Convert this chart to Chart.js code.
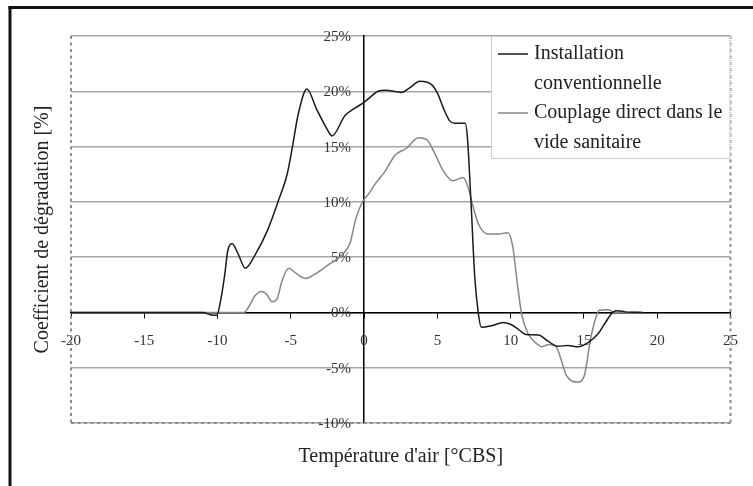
<!DOCTYPE html>
<html>
<head>
<meta charset="utf-8">
<script src="https://cdn.jsdelivr.net/npm/chart.js@4/dist/chart.umd.min.js"></script>
<style>
  html, body { margin: 0; padding: 0; background: #fff; }
  canvas { display: block; }
</style>
</head>
<body>
<canvas id="degradationChart" width="753" height="486"></canvas>
<script>
// Outdoor air temperature [°C] and degradation coefficient [%]
const tempConventional = [-20, -11, -10.5, -10.05, -9.8, -9.5, -9.3, -9.0, -8.6, -8.1, -7.4, -6.6, -5.85, -5.25, -4.9, -4.5, -3.9, -3.25, -2.45, -2.2, -1.3, -0.6, 0, 0.95, 1.45, 2.55, 3.1, 3.8, 4.6, 5.05, 5.4, 5.85, 6.2, 6.9, 7.05, 7.3, 7.55, 7.8, 8.0, 8.7, 9.5, 9.95, 10.5, 11.05, 11.9, 12.55, 13.2, 13.9, 14.6, 15.3, 15.95, 16.4, 17.0, 17.3, 17.8, 19.0];
const coeffConventional = [0, 0, -0.2, -0.25, 1.0, 3.5, 5.6, 6.2, 5.3, 4.0, 5.3, 7.4, 10.1, 12.5, 14.9, 17.9, 20.2, 18.4, 16.4, 15.95, 17.8, 18.5, 19.0, 20.0, 20.1, 19.9, 20.3, 20.9, 20.6, 19.7, 18.5, 17.3, 17.1, 17.1, 15.8, 9.8, 3.2, -0.15, -1.35, -1.2, -0.9, -1.05, -1.5, -2.0, -2.05, -2.6, -3.05, -3.0, -3.1, -2.7, -1.95, -1.05, 0.05, 0.15, 0.05, 0];

const tempCoupling = [-20, -8.2, -7.9, -7.45, -7.0, -6.65, -6.3, -5.95, -5.6, -5.15, -4.7, -4.0, -3.35, -2.45, -1.55, -0.95, -0.6, -0.15, 0.3, 0.75, 1.45, 2.1, 2.9, 3.7, 4.25, 4.85, 5.4, 6.05, 6.75, 7.1, 7.45, 7.8, 8.45, 9.15, 9.8, 10.15, 10.4, 10.75, 11.2, 11.85, 12.1, 12.6, 13.1, 13.45, 13.8, 14.6, 15.05, 15.45, 15.75, 16.05, 16.65, 17.1, 19.0];
const coeffCoupling = [0, 0, 0.45, 1.5, 1.9, 1.65, 0.97, 1.2, 2.86, 4.0, 3.6, 3.07, 3.47, 4.3, 5.15, 6.3, 8.3, 9.9, 10.7, 11.6, 12.8, 14.2, 14.85, 15.8, 15.65, 14.3, 12.8, 11.9, 12.2, 11.3, 9.5, 8.0, 7.1, 7.1, 7.2, 5.9, 3.2, -0.15, -1.95, -2.9, -3.1, -2.9, -3.1, -4.3, -5.7, -6.3, -5.6, -2.4, -0.75, 0.2, 0.25, 0, 0];

const seriesLabels = [
    ['Installation', 'conventionnelle'],
    ['Couplage direct dans le', 'vide sanitaire']
];
const xTitle = "Température d'air [°CBS]";
const yTitle = 'Coefficient de dégradation [%]';

const SERIF = "'Liberation Serif', 'DejaVu Serif', serif";

function toPoints(xs, ys) {
    return xs.map((x, i) => ({ x: x, y: ys[i] }));
}

// frame, plot border, axis titles, y labels and the boxed legend
const decorations = {
    id: 'decorations',
    beforeDraw(chart) {
        const ctx = chart.ctx;
        ctx.save();
        ctx.fillStyle = '#fff';
        ctx.fillRect(0, 0, chart.width, chart.height);
        ctx.restore();
    },
    beforeDatasetsDraw(chart) {
        const ctx = chart.ctx;
        const a = chart.chartArea;
        ctx.save();
        ctx.strokeStyle = '#8c8c8c';
        ctx.lineWidth = 2;
        ctx.setLineDash([3, 3.5]);
        ctx.beginPath();
        ctx.moveTo(a.left, a.top);
        ctx.lineTo(a.left, a.bottom);
        ctx.moveTo(a.right, a.top);
        ctx.lineTo(a.right, a.bottom);
        ctx.moveTo(a.left, a.bottom);
        ctx.lineTo(a.right, a.bottom);
        ctx.stroke();
        ctx.restore();

        // y tick labels sit just left of the axis at x = 0
        const xs = chart.scales.x;
        const ys = chart.scales.y;
        const axisX = xs.getPixelForValue(0);
        ctx.save();
        ctx.fillStyle = '#333';
        ctx.font = '15px ' + SERIF;
        ctx.textAlign = 'right';
        ctx.textBaseline = 'middle';
        ys.ticks.forEach(t => {
            ctx.fillText(t.value + '%', axisX - 13, ys.getPixelForValue(t.value) + 1);
        });
        ctx.restore();
    },
    afterDraw(chart) {
        const ctx = chart.ctx;
        const a = chart.chartArea;
        ctx.save();

        // outer frame
        ctx.fillStyle = '#111';
        ctx.fillRect(8.5, 6, 3, chart.height);
        ctx.fillRect(8.5, 6, chart.width, 3);

        // axis titles
        ctx.fillStyle = '#222';
        ctx.font = '20px ' + SERIF;
        ctx.textAlign = 'center';
        ctx.textBaseline = 'middle';
        ctx.fillText(xTitle, (a.left + a.right) / 2, 457);
        ctx.save();
        ctx.translate(43, (a.top + a.bottom) / 2);
        ctx.rotate(-Math.PI / 2);
        ctx.fillText(yTitle, 0, 0);
        ctx.restore();

        // legend
        const box = { left: 491, top: a.top, right: a.right, bottom: 159 };
        ctx.fillStyle = '#fff';
        ctx.fillRect(box.left, box.top, box.right - box.left, box.bottom - box.top);
        ctx.strokeStyle = '#999';
        ctx.lineWidth = 1;
        ctx.setLineDash([1, 1]);
        ctx.strokeRect(box.left + 0.5, box.top + 0.5, box.right - box.left - 1, box.bottom - box.top - 1);
        ctx.setLineDash([]);

        const lineH = 29.5;
        let y = 54;
        chart.data.datasets.forEach((ds, i) => {
            ctx.strokeStyle = ds.borderColor;
            ctx.lineWidth = ds.borderWidth;
            ctx.beginPath();
            ctx.moveTo(498, y);
            ctx.lineTo(528, y);
            ctx.stroke();
            ctx.fillStyle = '#222';
            ctx.textAlign = 'left';
            seriesLabels[i].forEach((txt, j) => {
                ctx.fillText(txt, 534, y + j * lineH);
            });
            y += lineH * seriesLabels[i].length;
        });
        ctx.restore();
    }
};

new Chart(document.getElementById('degradationChart'), {
    type: 'line',
    data: {
        datasets: [{
            label: seriesLabels[0].join(' '),
            data: toPoints(tempConventional, coeffConventional),
            borderColor: '#1a1a1a',
            borderWidth: 1.5,
            pointRadius: 0,
            cubicInterpolationMode: 'monotone',
            fill: false
        }, {
            label: seriesLabels[1].join(' '),
            data: toPoints(tempCoupling, coeffCoupling),
            borderColor: '#858585',
            borderWidth: 1.5,
            pointRadius: 0,
            cubicInterpolationMode: 'monotone',
            fill: false
        }]
    },
    options: {
        responsive: false,
        animation: false,
        devicePixelRatio: 1,
        layout: {
            padding: { left: 71, top: 36, right: 21, bottom: 63 }
        },
        plugins: {
            legend: { display: false },
            tooltip: { enabled: false }
        },
        scales: {
            x: {
                type: 'linear',
                position: { y: 0 },
                min: -20,
                max: 25,
                ticks: {
                    stepSize: 5,
                    padding: 15,
                    color: '#333',
                    font: { family: SERIF, size: 15 },
                    maxRotation: 0
                },
                grid: {
                    drawOnChartArea: false,
                    drawTicks: true,
                    tickLength: 5,
                    color: '#000'
                },
                border: { color: '#000', width: 1.5 }
            },
            y: {
                type: 'linear',
                position: { x: 0 },
                min: -10,
                max: 25,
                ticks: {
                    stepSize: 5,
                    display: false
                },
                grid: {
                    drawTicks: false,
                    color: '#a6a6a6',
                    lineWidth: 1.5
                },
                border: { color: '#000', width: 1.5 }
            }
        }
    },
    plugins: [decorations]
});
</script>
</body>
</html>
